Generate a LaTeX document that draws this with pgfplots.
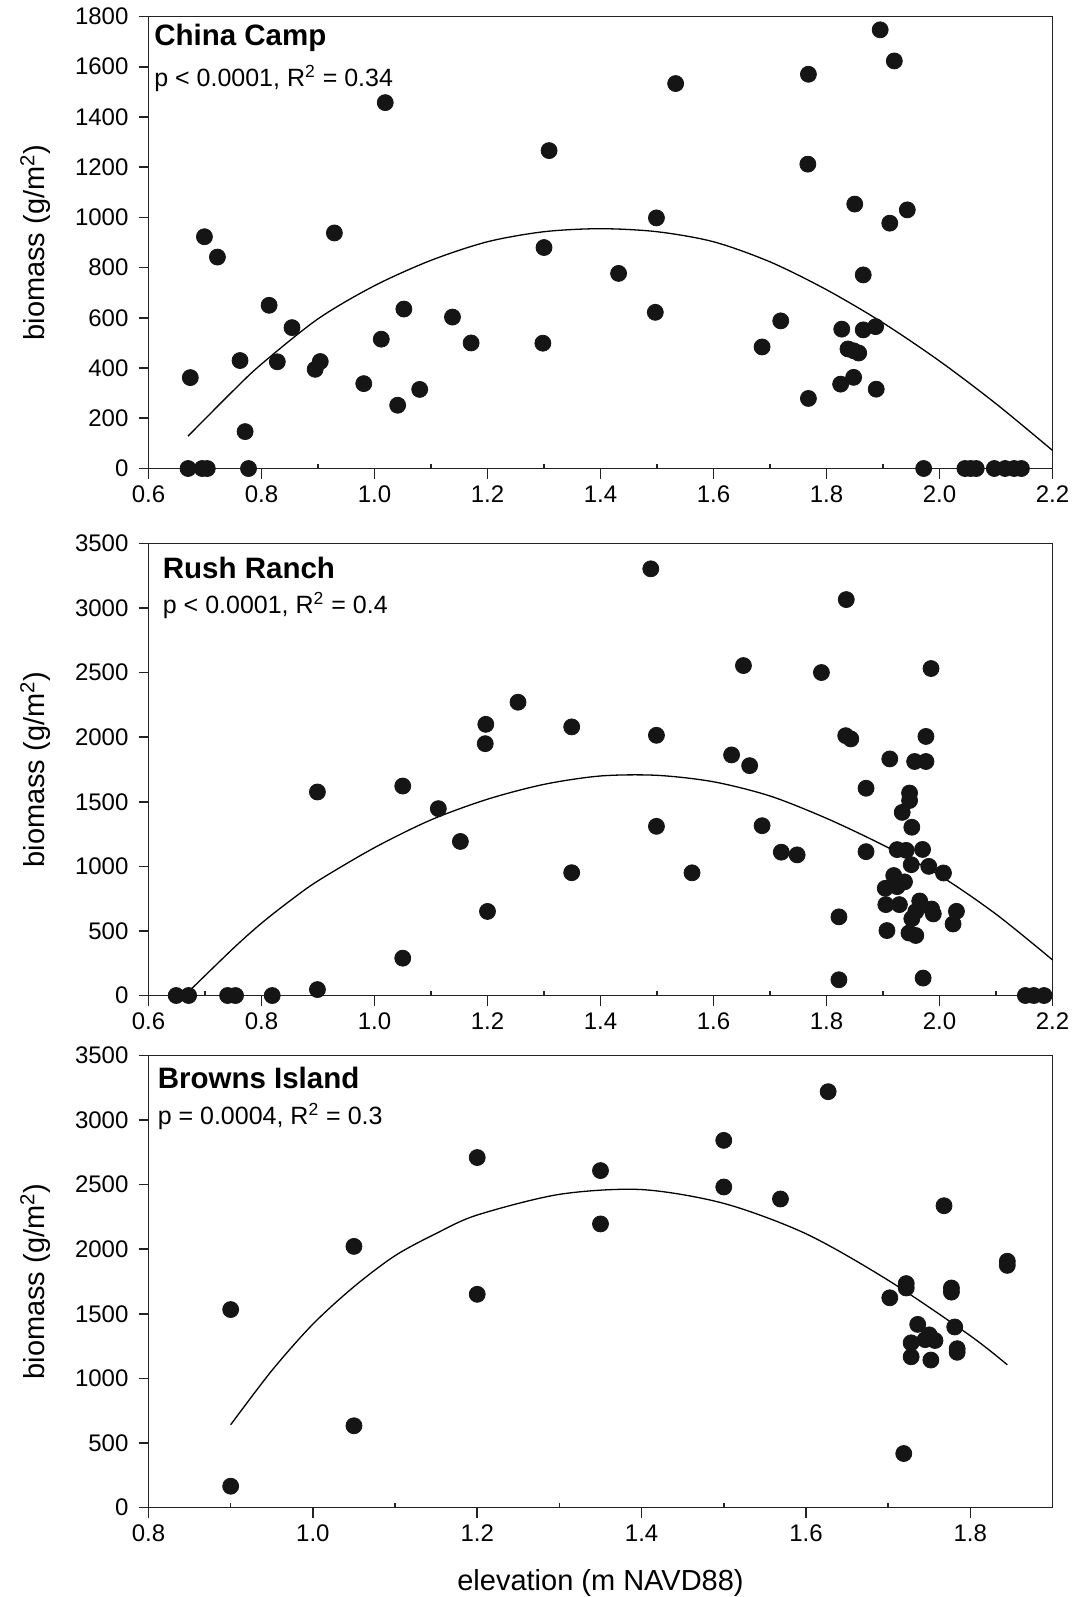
\documentclass[border=0pt]{standalone}
\usepackage{fontspec}
\setmainfont{Liberation Sans}
\usepackage{pgfplots}
\pgfplotsset{compat=1.18}

\definecolor{dotc}{HTML}{151515}
\definecolor{axc}{HTML}{222222}

\pgfplotsset{
  marsh/.style={
    scale only axis,
    width=452pt, height=226pt,
    axis line style={line width=0.8pt, axc},
    tick style={line width=0.8pt, axc},
    tick align=outside,
    xtick pos=bottom, ytick pos=left,
    major tick length=5pt,
    minor tick length=2.5pt,
    minor x tick num=1,
    minor x tick style={yshift=2.5pt},
    tick label style={font=\fontsize{12}{14}\selectfont},
    yticklabel style={xshift=-1.5pt},
    /pgf/number format/assume math mode=true,
    /pgf/number format/1000 sep={},
    xticklabel style={/pgf/number format/fixed, /pgf/number format/fixed zerofill, /pgf/number format/precision=1},
    ylabel={biomass (g/m\textsuperscript{2})},
    every axis y label/.style={at={(axis description cs:-0.125,0.5)}, rotate=90, anchor=center, font=\fontsize{14.5}{17}\selectfont},
    every axis x label/.style={at={(axis description cs:0.5,-0.166)}, anchor=center, font=\fontsize{14.5}{17}\selectfont},
    clip=false,
  },
  dots/.style={only marks, mark=*, mark size=4pt, mark options={fill=dotc, draw=dotc}},
  fit/.style={smooth, no markers, line width=0.65pt, black},
}
\tikzset{
  ttl/.style={anchor=base west, inner sep=0pt, font=\fontsize{14.75}{17}\selectfont\bfseries},
  stat/.style={anchor=base west, inner sep=0pt, font=\fontsize{12.5}{15}\selectfont},
}

\begin{document}
\begin{tikzpicture}
\useasboundingbox (0,0) rectangle (537pt,-798.5pt);

% China Camp
\begin{axis}[marsh, at={(74.25pt,-234.25pt)}, anchor=south west,
  xmin=0.6, xmax=2.2, ymin=0, ymax=1800,
  xtick={0.6,0.8,...,2.2}, ytick={0,200,...,1800}]
\addplot[dots] coordinates {
 (0.674,362) (0.670,0) (0.695,0) (0.704,0) (0.777,0) (0.699,923) (0.722,842)
 (0.8135,650) (0.854,561) (0.762,430) (0.771,147) (0.828,425) (0.895,395)
 (0.904,426) (0.929,938) (0.981,338) (1.012,515) (1.019,1457) (1.041,252)
 (1.052,635) (1.080,315) (1.138,603) (1.171,500) (1.298,499) (1.300,880)
 (1.309,1266) (1.432,777) (1.497,622) (1.499,998) (1.533,1533) (1.686,484)
 (1.719,588) (1.767,1212) (1.768,1570) (1.768,279) (1.825,336) (1.827,555)
 (1.838,476) (1.848,469) (1.857,460) (1.848,363) (1.850,1053) (1.865,771)
 (1.865,552) (1.887,565) (1.888,316) (1.895,1747) (1.912,977) (1.920,1623)
 (1.943,1030) (1.972,0) (2.045,0) (2.055,0) (2.065,0) (2.097,0) (2.116,0)
 (2.132,0) (2.145,0)
};
\addplot[fit] coordinates {
 (0.670,129) (0.75,310) (0.8,416) (0.9,596) (1.0,728) (1.1,829) (1.2,903)
 (1.3,943) (1.4,955) (1.5,943) (1.6,903) (1.7,823) (1.8,712) (1.9,580)
 (2.0,428) (2.1,258) (2.2,72)
};
\node[ttl] at (axis description cs:0.006,0.935) {China Camp};
\node[stat] at (axis description cs:0.006,0.845) {p < 0.0001, R\textsuperscript{2} = 0.34};
\end{axis}

% Rush Ranch
\begin{axis}[marsh, at={(74.25pt,-497.75pt)}, anchor=south west,
  xmin=0.6, xmax=2.2, ymin=0, ymax=3500,
  xtick={0.6,0.8,...,2.2}, ytick={0,500,...,3500}]
\addplot[dots] coordinates {
 (0.649,0) (0.671,0) (0.740,0) (0.754,0) (0.819,0) (2.152,0) (2.167,0) (2.185,0)
 (0.899,46) (0.899,1576) (1.050,1622) (1.050,289) (1.113,1447) (1.152,1193)
 (1.197,2100) (1.196,1950) (1.254,2271) (1.200,651) (1.349,2080) (1.349,951)
 (1.489,3304) (1.499,2015) (1.499,1310) (1.562,950) (1.632,1863) (1.653,2555)
 (1.664,1780) (1.686,1315) (1.720,1110) (1.748,1089) (1.791,2501) (1.822,609)
 (1.822,122) (1.834,2012) (1.843,1987) (1.835,3066) (1.870,1605) (1.870,1114)
 (1.912,1832) (1.956,1812) (1.976,1812) (1.976,2006) (1.985,2532) (1.947,1568)
 (1.947,1510) (1.934,1418) (1.951,1303) (1.925,1130) (1.941,1124) (1.970,1131)
 (1.950,1013) (1.981,1000) (2.007,949) (1.919,929) (1.938,880) (1.904,830)
 (1.925,843) (1.905,704) (1.929,704) (1.965,732) (1.958,650) (1.986,670)
 (1.989,632) (1.951,595) (2.030,652) (2.024,554) (1.907,503) (1.946,484)
 (1.958,465) (1.971,135)
};
\addplot[fit] coordinates {
 (0.671,30) (0.75,365) (0.8,560) (0.85,732) (0.9,888) (1.0,1145) (1.1,1360)
 (1.2,1520) (1.3,1635) (1.4,1700) (1.5,1705) (1.6,1655) (1.7,1545)
 (1.8,1372) (1.9,1165) (2.0,930) (2.1,630) (2.2,276)
};
\node[ttl] at (axis description cs:0.0155,0.922) {Rush Ranch};
\node[stat] at (axis description cs:0.0155,0.846) {p < 0.0001, R\textsuperscript{2} = 0.4};
\end{axis}

% Browns Island
\begin{axis}[marsh, at={(74.25pt,-753.75pt)}, anchor=south west,
  xmin=0.8, xmax=1.9, ymin=0, ymax=3500,
  xtick={0.8,1.0,...,1.8}, ytick={0,500,...,3500},
  xlabel={elevation (m NAVD88)}]
\addplot[dots] coordinates {
 (0.900,1533) (0.900,165) (1.050,2022) (1.050,633) (1.200,2710) (1.200,1651)
 (1.350,2609) (1.350,2196) (1.500,2843) (1.500,2482) (1.569,2389) (1.627,3220)
 (1.768,2337) (1.845,1907) (1.845,1875) (1.722,1734) (1.722,1700) (1.702,1624)
 (1.777,1700) (1.777,1668) (1.736,1418) (1.781,1398) (1.750,1337) (1.757,1293)
 (1.745,1300) (1.728,1275) (1.728,1167) (1.752,1142) (1.784,1230) (1.784,1202)
 (1.719,418)
};
\addplot[fit] coordinates {
 (0.9,641) (0.95,1060) (1.0,1420) (1.05,1710) (1.1,1950) (1.15,2122) (1.2,2265)
 (1.3,2425) (1.4,2462) (1.5,2355) (1.6,2120) (1.7,1760) (1.8,1330) (1.845,1105)
};
\node[ttl] at (axis description cs:0.0098,0.927) {Browns Island};
\node[stat] at (axis description cs:0.0098,0.847) {p = 0.0004, R\textsuperscript{2} = 0.3};
\end{axis}
\end{tikzpicture}
\end{document}
